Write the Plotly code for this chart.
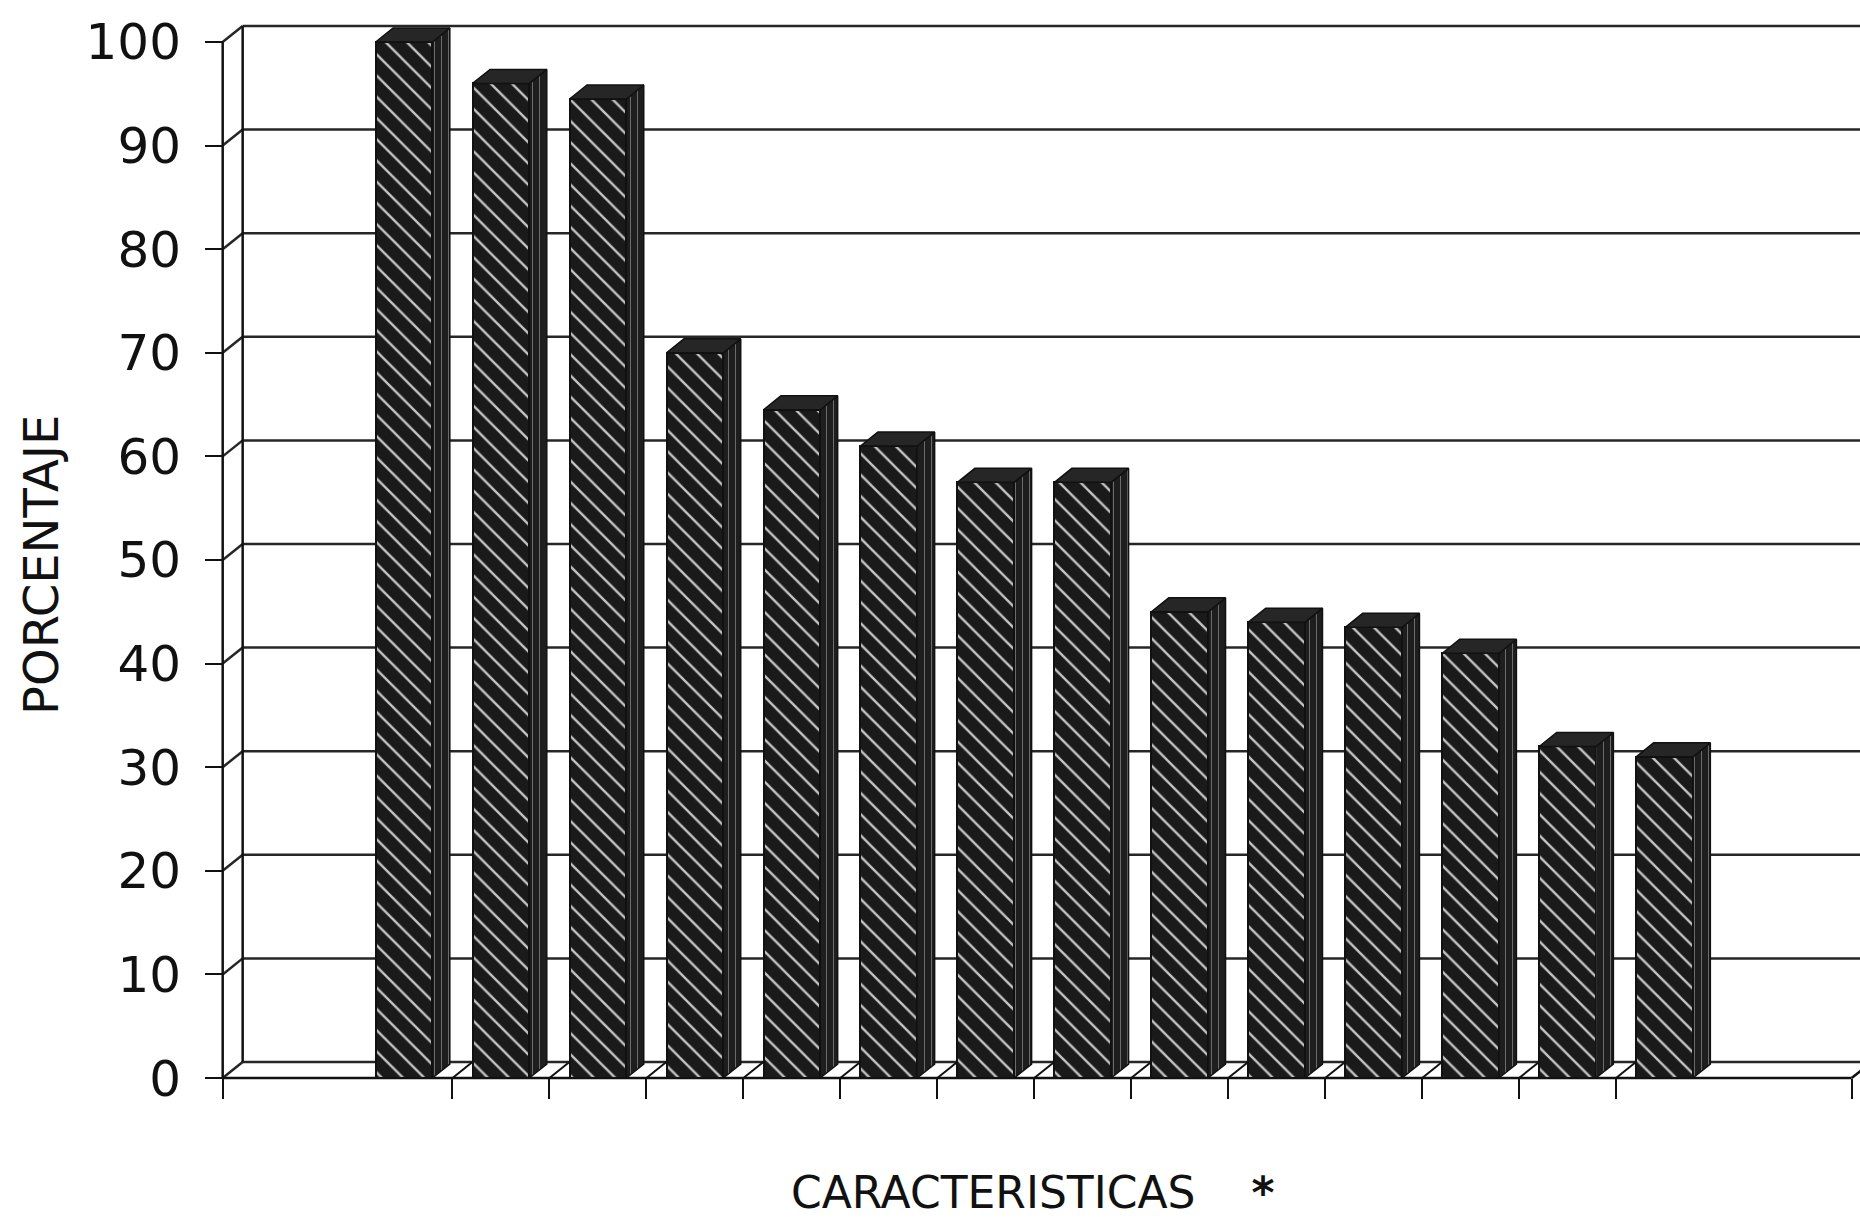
import plotly.graph_objects as go

# ---- data -------------------------------------------------------------
caracteristicas = list(range(1, 15))           # 14 characteristics, sorted by share
porcentaje = [100, 96, 94.5, 70, 64.5, 61, 57.5, 57.5, 45, 44, 43.5, 41, 32, 31]
y_ticks = [0, 10, 20, 30, 40, 50, 60, 70, 80, 90, 100]

# ---- geometry of the pseudo-3D frame (axis units) ----------------------
W, H = 1860, 1224
ML, MR, MT, MB = 200, 0, 5, 134
X_RANGE = [-2.104, 15.016]
Y_RANGE = [-1.158, 103.57]
AXIS_X = -1.87          # front vertical axis
AXIS_END = 14.93        # right end of front floor edge
DX, DY = 0.206, 1.545   # depth offset of the back wall
BAR_W = 0.585           # width of the front face of each bar
BDX, BDY = 0.18, 1.35   # depth of each bar

pos = [i for i in range(len(porcentaje))]
INK = "#111111"
GRID = "#262626"

fig = go.Figure()

# ---- front faces: hatched bars ----------------------------------------
fig.add_trace(go.Bar(
    x=pos, y=porcentaje, width=BAR_W,
    marker=dict(
        color="#1a1a1a",
        line=dict(color=INK, width=2),
        pattern=dict(shape="\\", fgcolor="#c4c4c4", bgcolor="#1a1a1a",
                     size=15, solidity=0.16, fillmode="replace"),
    ),
    hoverinfo="skip", showlegend=False,
))

# ---- side and top faces of each bar -----------------------------------
side_x, side_y, top_x, top_y = [], [], [], []
for x, v in zip(pos, porcentaje):
    r = x + BAR_W / 2
    l = x - BAR_W / 2
    side_x += [r, r, r + BDX, r + BDX, r, None]
    side_y += [0, v, v + BDY, BDY, 0, None]
    top_x += [l, r, r + BDX, l + BDX, l, None]
    top_y += [v, v, v + BDY, v + BDY, v, None]

fig.add_trace(go.Scatter(
    x=side_x, y=side_y, mode="lines", fill="toself",
    fillcolor="#1e1e1e",
    fillpattern=dict(shape="|", fgcolor="#7a7a7a", bgcolor="#1e1e1e",
                     size=7, solidity=0.12, fillmode="replace"),
    line=dict(color=INK, width=1.5),
    hoverinfo="skip", showlegend=False,
))
fig.add_trace(go.Scatter(
    x=top_x, y=top_y, mode="lines", fill="toself",
    fillcolor="#262626",
    line=dict(color=INK, width=1.5),
    hoverinfo="skip", showlegend=False,
))

# ---- back wall, floor and gridlines (drawn beneath the bars) -----------
shapes = []


def seg(x0, y0, x1, y1, w=2.5, c=GRID):
    shapes.append(dict(type="line", xref="x", yref="y", x0=x0, y0=y0,
                       x1=x1, y1=y1, layer="below",
                       line=dict(color=c, width=w)))


for t in y_ticks:
    seg(AXIS_X, t, AXIS_X + DX, t + DY)               # perspective step
    seg(AXIS_X + DX, t + DY, X_RANGE[1] + 1, t + DY)  # gridline on back wall

seg(AXIS_X, 0, AXIS_X, y_ticks[-1], w=2.5, c=INK)                  # front axis
seg(AXIS_X + DX, DY, AXIS_X + DX, y_ticks[-1] + DY, w=2.5, c=INK)  # wall edge
seg(AXIS_X, 0, AXIS_END, 0, w=2.5, c=INK)                          # floor front
seg(AXIS_END, 0, AXIS_END + DX, DY, w=2.5, c=INK)
for k in range(len(porcentaje) - 1):
    seg(k + 0.5, 0, k + 0.5 + DX, DY, w=2, c=INK)                  # floor dividers


def paper_x(px):
    return (px - ML) / (W - ML - MR)


def paper_y(py):
    return (H - MB - py) / (H - MT - MB)


fig.update_layout(
    width=W, height=H,
    margin=dict(l=ML, r=MR, t=MT, b=MB, pad=0),
    paper_bgcolor="white", plot_bgcolor="white",
    shapes=shapes,
    bargap=0,
    xaxis=dict(
        range=X_RANGE, showgrid=False, zeroline=False, showline=False,
        tickmode="array",
        tickvals=[AXIS_X] + [k + 0.5 for k in range(len(porcentaje) - 1)] + [AXIS_END],
        ticks="outside", ticklen=20, tickwidth=2, tickcolor=INK,
        showticklabels=False,
        anchor="free", position=paper_y(1078),
    ),
    yaxis=dict(
        range=Y_RANGE, showgrid=False, zeroline=False, showline=False,
        tickmode="array", tickvals=y_ticks,
        ticks="outside", ticklen=18, tickwidth=2, tickcolor=INK,
        ticklabelstandoff=14,
        tickfont=dict(family="DejaVu Sans", size=50, color=INK),
        anchor="free", position=paper_x(223),
    ),
    annotations=[
        dict(text="PORCENTAJE", xref="paper", yref="paper",
             x=paper_x(41), y=paper_y(565), textangle=-90,
             xanchor="center", yanchor="middle", showarrow=False,
             font=dict(family="DejaVu Sans", size=48, color=INK)),
        dict(text="CARACTERISTICAS\u00a0\u00a0\u00a0\u00a0<b>*</b>",
             xref="paper", yref="paper",
             x=paper_x(1032), y=paper_y(1192),
             xanchor="center", yanchor="middle", showarrow=False,
             font=dict(family="DejaVu Sans", size=44, color=INK)),
    ],
)

fig.write_html("out.html")
